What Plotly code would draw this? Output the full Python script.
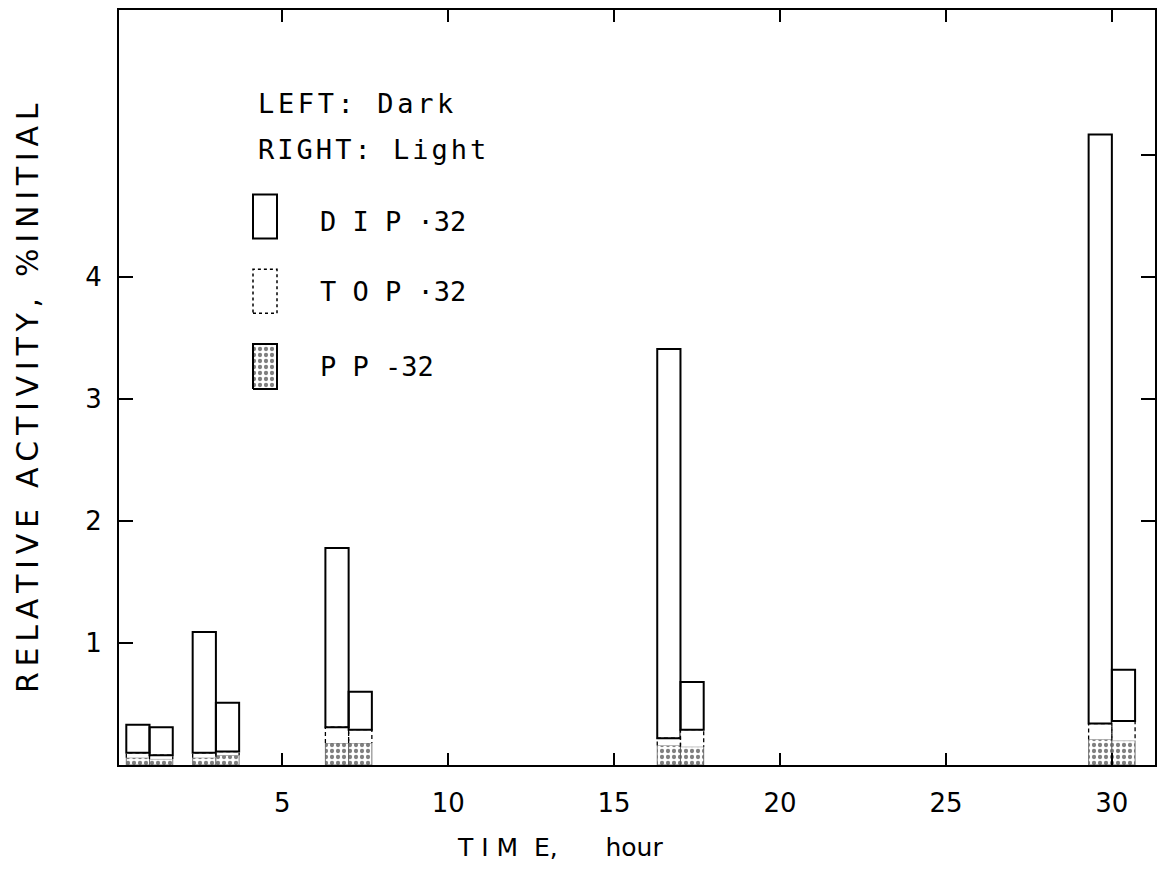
import plotly.graph_objects as go

# ---- data ----
times = [1, 3, 7, 17, 30]                      # hour
# boundary levels (% initial) of the stacked parts, LEFT = dark bars
dark_pp = [0.06, 0.06, 0.18, 0.16, 0.21]
dark_top = [0.10, 0.10, 0.31, 0.22, 0.34]
dark_dip = [0.33, 1.09, 1.78, 3.41, 5.17]
# RIGHT = light bars
light_pp = [0.05, 0.08, 0.18, 0.15, 0.20]
light_top = [0.08, 0.11, 0.29, 0.29, 0.36]
light_dip = [0.31, 0.51, 0.60, 0.68, 0.78]

x_ticks = [5, 10, 15, 20, 25, 30]
y_ticks = [1, 2, 3, 4]
y_ticks_right = [2, 3, 4, 5]

BAR_W = 0.7
MONO = "DejaVu Sans Mono"
SANS = "DejaVu Sans"

fig = go.Figure()

DOTS = dict(shape=".", fgcolor="black", bgcolor="white", size=6,
            solidity=0.4, fillmode="overlay")


def add_side(pp, top, dip, offset, name):
    fig.add_trace(go.Bar(
        x=times, y=pp, base=[0] * len(pp), width=BAR_W, offset=offset,
        marker=dict(color="white", line=dict(color="#555", width=0.8),
                    pattern=DOTS),
        name=name + " PP-32", showlegend=False, hoverinfo="skip"))
    fig.add_trace(go.Bar(
        x=times, y=[t - p for t, p in zip(top, pp)], base=pp, width=BAR_W,
        offset=offset,
        marker=dict(color="white", line=dict(color="white", width=0)),
        name=name + " TOP-32", showlegend=False, hoverinfo="skip"))
    # dashed outline of the TOP-32 part, built from the same data
    xs, ys = [], []
    for t, p, q in zip(times, pp, top):
        x0 = t + offset
        x1 = x0 + BAR_W
        xs += [x0, x0, x1, x1, None]
        ys += [p, q, q, p, None]
    fig.add_trace(go.Scatter(x=xs, y=ys, mode="lines",
                             line=dict(color="black", width=1.3, dash="4px,3px"),
                             showlegend=False, hoverinfo="skip"))
    fig.add_trace(go.Bar(
        x=times, y=[d - t for d, t in zip(dip, top)], base=top, width=BAR_W,
        offset=offset,
        marker=dict(color="rgba(0,0,0,0)", line=dict(color="black", width=2)),
        name=name + " DIP-32", showlegend=False, hoverinfo="skip"))


add_side(dark_pp, dark_top, dark_dip, -BAR_W, "Dark")
add_side(light_pp, light_top, light_dip, 0, "Light")

# invisible trace carrying the right-hand y axis ticks
fig.add_trace(go.Scatter(x=[times[0]], y=[0], yaxis="y2", mode="markers",
                         marker=dict(opacity=0), showlegend=False,
                         hoverinfo="skip"))

L, R, T, B = 119, 20, 8, 115
W, H = 1175, 880
pw, ph = W - L - R, H - T - B


def px(x):
    return (x - L) / pw


def py(y):
    return (H - B - y) / ph


def spaced(text, gap):
    sp = '<span style="font-size:%dpx">\u00a0</span>' % gap
    return sp.join(text)


YMAX = 6.19
fig.update_layout(
    width=W, height=H, margin=dict(l=L, r=R, t=T, b=B),
    paper_bgcolor="white", plot_bgcolor="white",
    barmode="overlay", showlegend=False,
    font=dict(family=SANS, color="black", size=24),
    xaxis=dict(range=[0.08, 31.3], tickvals=x_ticks, ticks="inside",
               ticklen=12, tickwidth=2, tickcolor="black",
               showline=True, linecolor="black", linewidth=2, mirror="ticks",
               showgrid=False, zeroline=False, ticklabelstandoff=14,
               tickfont=dict(family=SANS, size=26)),
    yaxis=dict(range=[0, YMAX], tickvals=y_ticks, ticks="inside",
               ticklen=14, tickwidth=2, tickcolor="black",
               showline=True, linecolor="black", linewidth=2, mirror=True,
               showgrid=False, zeroline=False, ticklabelstandoff=10,
               tickfont=dict(family=SANS, size=26)),
    yaxis2=dict(range=[0, YMAX], overlaying="y", side="right",
                tickvals=y_ticks_right, ticks="inside", ticklen=14,
                tickwidth=2, tickcolor="black", showticklabels=False,
                showline=False, showgrid=False, zeroline=False),
    xaxis3=dict(range=[0, 1], overlaying="x", visible=False),
    yaxis3=dict(range=[0, 1], overlaying="y", visible=False),
)

# axis titles
fig.add_annotation(text="T I M  E,\u00a0\u00a0\u00a0\u00a0\u00a0\u00a0hour",
                   xref="paper", yref="paper", x=px(455), y=py(848),
                   xanchor="left", yanchor="middle", showarrow=False,
                   font=dict(family=SANS, size=25))
fig.add_annotation(text=spaced("RELATIVE ACTIVITY, %INITIAL", 18),
                   xref="paper", yref="paper", x=px(28), y=py(397),
                   xanchor="center", yanchor="middle", showarrow=False,
                   textangle=-90, font=dict(family=SANS, size=30))

# legend: boxes
box_x0, box_x1 = px(253), px(277)
fig.add_shape(type="rect", xref="paper", yref="paper", x0=box_x0, x1=box_x1,
              y0=py(237), y1=py(193), line=dict(color="black", width=2),
              fillcolor="white")
fig.add_shape(type="rect", xref="paper", yref="paper", x0=box_x0, x1=box_x1,
              y0=py(312), y1=py(268), line=dict(color="black", width=1.5,
                                                 dash="dot"),
              fillcolor="white")
bx0, bx1, by0, by1 = box_x0, box_x1, py(388), py(343)
fig.add_trace(go.Scatter(x=[bx0, bx1, bx1, bx0, bx0],
                         y=[by0, by0, by1, by1, by0],
                         xaxis="x3", yaxis="y3", mode="lines", fill="toself",
                         fillcolor="white", fillpattern=DOTS,
                         line=dict(color="black", width=2),
                         showlegend=False, hoverinfo="skip"))

labels = [(spaced("LEFT: Dark", 6), 256, 102),
          (spaced("RIGHT: Light", 5), 256, 148),
          ("D I P \u00b732", 318, 220), ("T O P \u00b732", 318, 290),
          ("P P -32", 318, 365)]
for txt, x, y in labels:
    fig.add_annotation(text=txt, xref="paper", yref="paper", x=px(x), y=py(y),
                       xanchor="left", yanchor="middle", showarrow=False,
                       font=dict(family=MONO, size=27, color="black"))

fig.write_html("out.html")
